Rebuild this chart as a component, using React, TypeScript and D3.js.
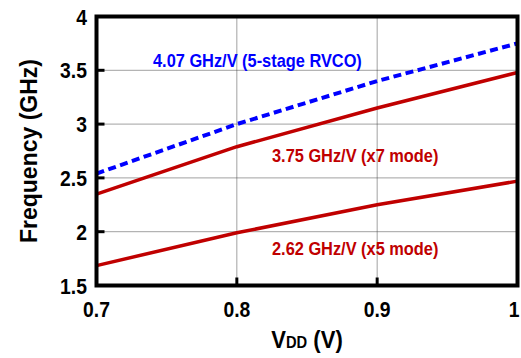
import React from "react";
import * as d3 from "d3";

// Supply voltage sweep (V)
const vdd = [0.7, 0.8, 0.9, 1.0];
// Oscillation frequency (GHz) for each configuration
const rvco5Stage = [2.54, 3.0, 3.4, 3.75];
const x7Mode = [2.35, 2.79, 3.15, 3.48];
const x5Mode = [1.685, 1.99, 2.25, 2.47];

const xTicks = [0.7, 0.8, 0.9, 1];
const yTicks = [1.5, 2, 2.5, 3, 3.5, 4];

const seriesLabels = [
  "4.07 GHz/V (5-stage RVCO)",
  "3.75 GHz/V (x7 mode)",
  "2.62 GHz/V (x5 mode)",
];

const W = 521;
const H = 358;
const left = 96.5;
const right = 517.5;
const top = 16.5;
const bottom = 285.5;

const FONT = "'Liberation Sans', Arial, sans-serif";
const BLUE = "#0000ff";
const RED = "#c00000";

export default function App() {
  const x = d3.scaleLinear().domain([0.7, 1]).range([left, right]);
  const y = d3.scaleLinear().domain([1.5, 4]).range([bottom, top]);

  const line = d3
    .line<number>()
    .x((_, i) => x(vdd[i]))
    .y((v) => y(v));

  const gridX = xTicks.slice(1, -1);
  const gridY = yTicks.slice(1, -1);

  return (
    <svg
      width={W}
      height={H}
      style={{ position: "absolute", left: 0, top: 0, background: "#fff" }}
      fontFamily={FONT}
      fontWeight="bold"
    >
      {/* dotted grid */}
      {gridY.map((t) => (
        <line
          key={"gy" + t}
          x1={left}
          x2={right}
          y1={y(t)}
          y2={y(t)}
          stroke="#444"
          strokeWidth={1}
          strokeDasharray="1,1"
        />
      ))}
      {gridX.map((t) => (
        <line
          key={"gx" + t}
          x1={x(t)}
          x2={x(t)}
          y1={top}
          y2={bottom}
          stroke="#444"
          strokeWidth={1}
          strokeDasharray="1,1"
        />
      ))}

      {/* inward tick marks */}
      {gridY.map((t) => (
        <line key={"ty" + t} x1={left} x2={left + 8} y1={y(t)} y2={y(t)} stroke="#000" strokeWidth={3} />
      ))}
      {gridX.map((t) => (
        <line key={"tx" + t} x1={x(t)} x2={x(t)} y1={bottom} y2={bottom - 8} stroke="#000" strokeWidth={3} />
      ))}

      {/* series */}
      <path d={line(x5Mode) ?? ""} fill="none" stroke={RED} strokeWidth={3.5} />
      <path d={line(x7Mode) ?? ""} fill="none" stroke={RED} strokeWidth={3.5} />
      <path
        d={line(rvco5Stage) ?? ""}
        fill="none"
        stroke={BLUE}
        strokeWidth={4}
        strokeDasharray="8,4.5"
      />

      {/* frame */}
      <rect
        x={left}
        y={top}
        width={right - left}
        height={bottom - top}
        fill="none"
        stroke="#000"
        strokeWidth={4}
      />

      {/* y tick labels */}
      {yTicks.map((t) => (
        <text
          key={"ly" + t}
          transform={`translate(87,${y(t) + 8}) scale(0.86,1)`}
          textAnchor="end"
          fontSize={22.5}
          fill="#000"
        >
          {t}
        </text>
      ))}

      {/* x tick labels */}
      {xTicks.map((t, i) => (
        <text
          key={"lx" + t}
          transform={`translate(${i === xTicks.length - 1 ? x(t) - 3.5 : x(t)},316.5) scale(0.86,1)`}
          textAnchor="middle"
          fontSize={22.5}
          fill="#000"
        >
          {t}
        </text>
      ))}

      {/* axis titles */}
      <text
        transform={`translate(37,151) rotate(-90)`}
        textAnchor="middle"
        fontSize={23}
        fill="#000"
      >
        Frequency (GHz)
      </text>
      <text transform="translate(307,348) scale(0.92,1)" textAnchor="middle" fontSize={24} fill="#000">
        V<tspan fontSize={16}>DD</tspan> (V)
      </text>

      {/* series annotations */}
      <text transform="translate(153,67) scale(0.91,1)" fontSize={18} fill={BLUE}>
        {seriesLabels[0]}
      </text>
      <text transform="translate(272,162) scale(0.91,1)" fontSize={18} fill={RED}>
        {seriesLabels[1]}
      </text>
      <text transform="translate(272,255) scale(0.91,1)" fontSize={18} fill={RED}>
        {seriesLabels[2]}
      </text>
    </svg>
  );
}
